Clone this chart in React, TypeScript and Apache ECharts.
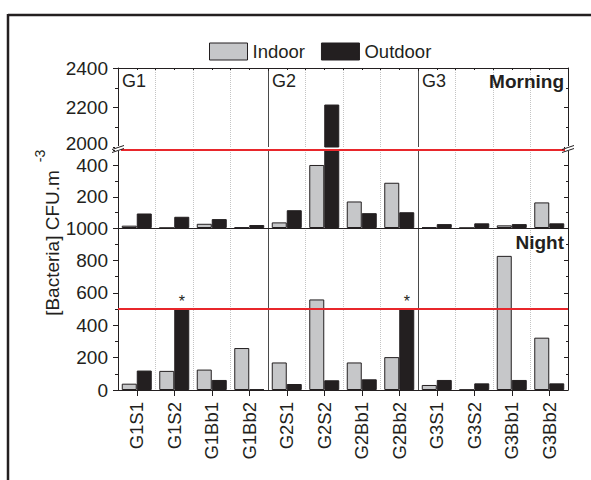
import React, { useEffect, useRef } from "react";
import * as echarts from "echarts";

const categories = ["G1S1", "G1S2", "G1Bb1", "G1Bb2", "G2S1", "G2S2", "G2Bb1", "G2Bb2", "G3S1", "G3S2", "G3Bb1", "G3Bb2"];
const morningIndoor = [15, 1, 27, 4, 36, 404, 170, 290, 4, 1, 17, 164];
const morningOutdoor = [93, 72, 57, 19, 114, 2215, 95, 101, 25, 30, 25, 30];
const nightIndoor = [39, 118, 126, 259, 170, 559, 170, 203, 31, 2, 828, 323];
const nightOutdoor = [120, 500, 62, 4, 37, 60, 66, 500, 62, 41, 62, 41];
const starredNight = ["G1S2", "G2Bb2"];
const groupNames = ["G1", "G2", "G3"];
const limitValue = 500;

const FONT = "'Liberation Sans', Arial, Helvetica, sans-serif";
const INK = "#231f20";
const GRAY = "#c6c7c9";
const RED = "#e8262b";

const L = 118;
const W = 450;
const grids = [
  { left: L, width: W, top: 68, height: 79 },
  { left: L, width: W, top: 150, height: 78 },
  { left: L, width: W, top: 228, height: 162 },
];

export default function App() {
  const ref = useRef<HTMLDivElement>(null);
  useEffect(() => {
    if (!ref.current) return;
    const chart = echarts.init(ref.current, null, { renderer: "svg" });

    const catAxis = (gi: number, opts: any) => ({
      type: "category",
      gridIndex: gi,
      data: categories,
      boundaryGap: true,
      axisLine: { show: false, lineStyle: { color: INK, width: 1 } },
      axisTick: { show: false },
      axisLabel: { show: false },
      splitLine: { show: true, interval: 0, lineStyle: { color: "#c4c4c4", type: "dotted", width: 1 } },
      ...opts,
    });
    const divAxis = (gi: number, opts: any) => ({
      type: "value",
      gridIndex: gi,
      min: 0,
      max: 12,
      interval: 4,
      axisLine: { show: false },
      axisTick: { show: false },
      axisLabel: { show: false },
      minorTick: { show: false },
      splitLine: { show: true, lineStyle: { color: "#4a4a4a", width: 1, type: "solid" } },
      ...opts,
    });
    const yLeft = (gi: number, min: number, max: number, fmt?: (v: number) => string) => ({
      type: "value",
      gridIndex: gi,
      position: "left",
      min,
      max,
      interval: 200,
      axisLine: { show: true, lineStyle: { color: INK, width: 1 } },
      axisTick: { show: true, inside: false, length: 5, lineStyle: { color: INK } },
      minorTick: { show: true, splitNumber: 2, length: 3, lineStyle: { color: INK } },
      axisLabel: {
        show: true,
        fontSize: 19,
        lineHeight: 15,
        color: INK,
        fontFamily: FONT,
        margin: 10,
        formatter: fmt || ((v: number) => String(v)),
        rich: {
          up: { fontSize: 19, lineHeight: 15, color: INK, fontFamily: FONT, padding: [0, 0, 7, 0] },
        },
      },
      splitLine: { show: false },
    });
    const yRight = (gi: number, min: number, max: number) => ({
      type: "value",
      gridIndex: gi,
      position: "right",
      min,
      max,
      interval: 200,
      axisLine: { show: true, lineStyle: { color: INK, width: 1 } },
      axisTick: { show: true, inside: true, length: 4, lineStyle: { color: INK } },
      minorTick: { show: true, splitNumber: 2, length: 2, lineStyle: { color: INK } },
      axisLabel: { show: false },
      splitLine: { show: false },
    });

    const xAxis = [
      catAxis(0, {}),
      divAxis(0, {
        position: "top",
        axisLine: { show: true, lineStyle: { color: INK, width: 1 } },
        axisTick: { show: true, inside: true, length: 3, lineStyle: { color: INK } },
        minorTick: { show: true, splitNumber: 8, length: 2, lineStyle: { color: INK } },
      }),
      catAxis(1, { axisLine: { show: true, lineStyle: { color: INK, width: 1 } } }),
      divAxis(1, {}),
      catAxis(2, {
        axisLine: { show: true, lineStyle: { color: INK, width: 1 } },
        axisTick: { show: true, alignWithLabel: true, inside: false, length: 6, lineStyle: { color: INK } },
        axisLabel: { show: true, rotate: 90, fontSize: 18.5, color: INK, fontFamily: FONT, margin: 12, interval: 0 },
      }),
      divAxis(2, {}),
    ];

    const yAxis = [
      yLeft(0, 2000, 2400, (v: number) => (v === 2000 ? "{up|2000}" : String(v))),
      yRight(0, 2000, 2400),
      yLeft(1, 0, 500, (v: number) => (v === 200 || v === 400 ? String(v) : "")),
      yRight(1, 0, 500),
      yLeft(2, 0, 1000),
      yRight(2, 0, 1000),
    ];

    const redLine = {
      silent: true,
      symbol: "none",
      label: { show: false },
      lineStyle: { color: RED, width: 2, type: "solid" },
      data: [{ yAxis: limitValue }],
    };

    const barBase = {
      type: "bar",
      barGap: "0%",
      barCategoryGap: "20%",
      clip: true,
    };
    const indoorStyle = { color: GRAY, borderColor: INK, borderWidth: 1 };
    const outdoorStyle = { color: INK, borderColor: INK, borderWidth: 1 };

    const series: any[] = [];
    [0, 1].forEach((gi) => {
      series.push({
        ...barBase,
        name: "Indoor",
        xAxisIndex: gi * 2,
        yAxisIndex: gi * 2,
        data: morningIndoor,
        itemStyle: indoorStyle,
      });
      series.push({
        ...barBase,
        name: "Outdoor",
        xAxisIndex: gi * 2,
        yAxisIndex: gi * 2,
        data: morningOutdoor,
        itemStyle: outdoorStyle,
        markLine: gi === 1 ? redLine : undefined,
      });
    });
    series.push({
      ...barBase,
      name: "Indoor",
      xAxisIndex: 4,
      yAxisIndex: 4,
      data: nightIndoor,
      itemStyle: indoorStyle,
    });
    series.push({
      ...barBase,
      name: "Outdoor",
      xAxisIndex: 4,
      yAxisIndex: 4,
      data: nightOutdoor.map((v, i) =>
        starredNight.includes(categories[i])
          ? { value: v, label: { show: true, position: "top", formatter: "*", fontSize: 16, color: INK, distance: 0, fontFamily: FONT } }
          : v
      ),
      itemStyle: outdoorStyle,
      markLine: redLine,
    });

    const breakMark = (x: number, y: number) => ({
      type: "group",
      children: [
        { type: "rect", shape: { x: x - 3, y: y - 3, width: 6, height: 5 }, style: { fill: "#fff" }, z: 100 },
        { type: "line", shape: { x1: x - 6, y1: y + 0.5, x2: x + 6, y2: y - 3.5 }, style: { stroke: INK, lineWidth: 1 }, z: 101 },
        { type: "line", shape: { x1: x - 6, y1: y + 3.5, x2: x + 6, y2: y - 0.5 }, style: { stroke: INK, lineWidth: 1 }, z: 101 },
      ],
    });

    const graphic: any[] = [
      { type: "line", shape: { x1: 8, y1: 15, x2: 591, y2: 15 }, style: { stroke: INK, lineWidth: 2.5 } },
      { type: "line", shape: { x1: 8, y1: 14, x2: 8, y2: 480 }, style: { stroke: INK, lineWidth: 2.5 } },
      ...groupNames.map((g, i) => ({
        type: "text",
        x: L + 4 + i * (W / 3),
        y: 72,
        style: { text: g, fontSize: 18, fill: INK, fontFamily: FONT },
        z: 50,
      })),
      {
        type: "text",
        x: L + W - 4,
        y: 72,
        style: { text: "Morning", fontSize: 19, fontWeight: "bold", fill: INK, fontFamily: FONT, align: "right" },
        z: 50,
      },
      {
        type: "text",
        x: L + W - 4,
        y: 233,
        style: { text: "Night", fontSize: 19, fontWeight: "bold", fill: INK, fontFamily: FONT, align: "right" },
        z: 50,
      },
      {
        type: "text",
        x: 52,
        y: 243,
        rotation: Math.PI / 2,
        style: { text: "[Bacteria] CFU.m", fontSize: 19, fill: INK, fontFamily: FONT, align: "center", verticalAlign: "middle" },
      },
      {
        type: "text",
        x: 40,
        y: 156,
        rotation: Math.PI / 2,
        style: { text: "-3", fontSize: 14, fill: INK, fontFamily: FONT, align: "center", verticalAlign: "middle" },
      },
      breakMark(L, 149),
      breakMark(L + W, 149),
    ];

    chart.setOption({
      animation: false,
      textStyle: { fontFamily: FONT },
      legend: {
        left: 204,
        top: 37,
        itemWidth: 38,
        itemHeight: 17,
        itemGap: 16,
        textStyle: { fontSize: 18.5, color: INK, fontFamily: FONT },
        data: [
          { name: "Indoor", icon: "rect", itemStyle: { color: GRAY, borderColor: INK, borderWidth: 1 } },
          { name: "Outdoor", icon: "rect", itemStyle: { color: INK, borderColor: INK, borderWidth: 1 } },
        ],
        selectedMode: false,
      },
      grid: grids.map((g) => ({ ...g, containLabel: false })),
      xAxis,
      yAxis,
      series,
      graphic,
    });
    return () => chart.dispose();
  }, []);
  return <div ref={ref} style={{ width: 591, height: 480, position: "absolute", left: 0, top: 0 }} />;
}
